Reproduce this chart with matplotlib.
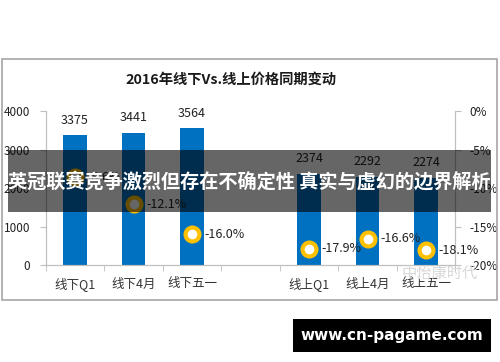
import numpy as np
import matplotlib.pyplot as plt
from matplotlib.patches import Rectangle

plt.rcParams['font.family'] = ['Noto Sans CJK SC', 'DejaVu Sans']

# dados (posição vazia no meio separa offline / online)
categorias = ['线下Q1', '线下4月', '线下五一', '', '线上Q1', '线上4月', '线上五一']
precos = [3375, 3441, 3564, np.nan, 2374, 2292, 2274]
variacao = [-8.6, -12.1, -16.0, np.nan, -17.9, -16.6, -18.1]
ticks_esq = [0, 1000, 2000, 3000, 4000]
ticks_dir = [0, -5, -10, -15, -20]

titulo = '2016年线下Vs.线上价格同期变动'
faixa = '英冠联赛竞争激烈但存在不确定性 真实与虚幻的边界解析'
rodape = 'www.cn-pagame.com'
marca = '中怡康时代'

azul = '#0070C0'
ouro = '#FFC000'
cinza = '#BFBFBF'

fig = plt.figure(figsize=(5, 3.62), dpi=100)
ax = fig.add_axes([0.0915, 0.268, 0.819, 0.425])
ax2 = ax.twinx()

x = np.arange(len(categorias))
idx = [i for i in range(len(categorias)) if not np.isnan(precos[i])]

ax.bar([x[i] for i in idx], [precos[i] for i in idx], width=0.4, color=azul, zorder=2)
for i in idx:
    ax.annotate(f'{precos[i]:.0f}', (x[i], precos[i]), xytext=(0, 6), textcoords='offset points',
                ha='center', va='bottom', fontsize=9, color='#222222')

ax2.plot([x[i] for i in idx], [variacao[i] for i in idx], linestyle='none', marker='o',
         markersize=10, markerfacecolor='white', markeredgecolor=ouro, markeredgewidth=3, zorder=3)
for i in idx:
    ax2.annotate(f'{variacao[i]:.1f}%', (x[i], variacao[i]), xytext=(9, 0), textcoords='offset points',
                 ha='left', va='center', fontsize=9, color='#222222')

ax.set_xlim(-0.5, len(categorias) - 0.5)
ax.set_ylim(0, 4000)
ax2.set_ylim(-20, 0)
ax.set_yticks(ticks_esq)
ax2.set_yticks(ticks_dir)
ax2.set_yticklabels([f'{t}%' for t in ticks_dir])
ax.set_xticks(x)
ax.set_xticklabels(categorias, fontsize=9, color='#333333')
ax.set_xticks(np.arange(-0.5, len(categorias)), minor=True)
ax.tick_params(axis='x', which='major', length=0, pad=9)
ax.tick_params(axis='x', which='minor', length=4, color=cinza)
ax.tick_params(axis='y', labelsize=8.5, length=4, color=cinza, labelcolor='#222222', pad=7)
ax2.tick_params(axis='y', labelsize=8.5, length=4, color=cinza, labelcolor='#222222', pad=6)

for a in (ax, ax2):
    a.spines['top'].set_visible(False)
    for s in ('left', 'right', 'bottom'):
        a.spines[s].set_color(cinza)

# moldura do gráfico
fig.patches.append(Rectangle((2 / 500, 1 - 300 / 362), 495 / 500, 241 / 362, transform=fig.transFigure,
                             fill=False, edgecolor='#A6A6A6', linewidth=1.2))
fig.text(231 / 500, 1 - 80 / 362, titulo, ha='center', va='center', fontsize=10.3, fontweight='bold',
         color='#1a1a1a')

# marca d'água
fig.text(440 / 500, 1 - 273 / 362, marca, ha='center', va='center', fontsize=11, color='#D8D8D8')

# faixa escura por cima
fig.patches.append(Rectangle((8 / 500, 1 - 212 / 362), 483 / 500, 62 / 362, transform=fig.transFigure,
                             facecolor='black', alpha=0.6, edgecolor='none', zorder=10))
fig.text(249 / 500, 1 - 182 / 362, faixa, ha='center', va='center', fontsize=13.8, fontweight='bold',
         color='white', zorder=11)

# rodapé
fig.patches.append(Rectangle((293 / 500, 1 - 352 / 362), 198 / 500, 33 / 362, transform=fig.transFigure,
                             facecolor='black', edgecolor='none'))
fig.text(392 / 500, 1 - 335.5 / 362, rodape, ha='center', va='center', fontsize=11, fontweight='bold',
         color='white', family='DejaVu Sans')

fig.savefig('out.png', dpi=100)
